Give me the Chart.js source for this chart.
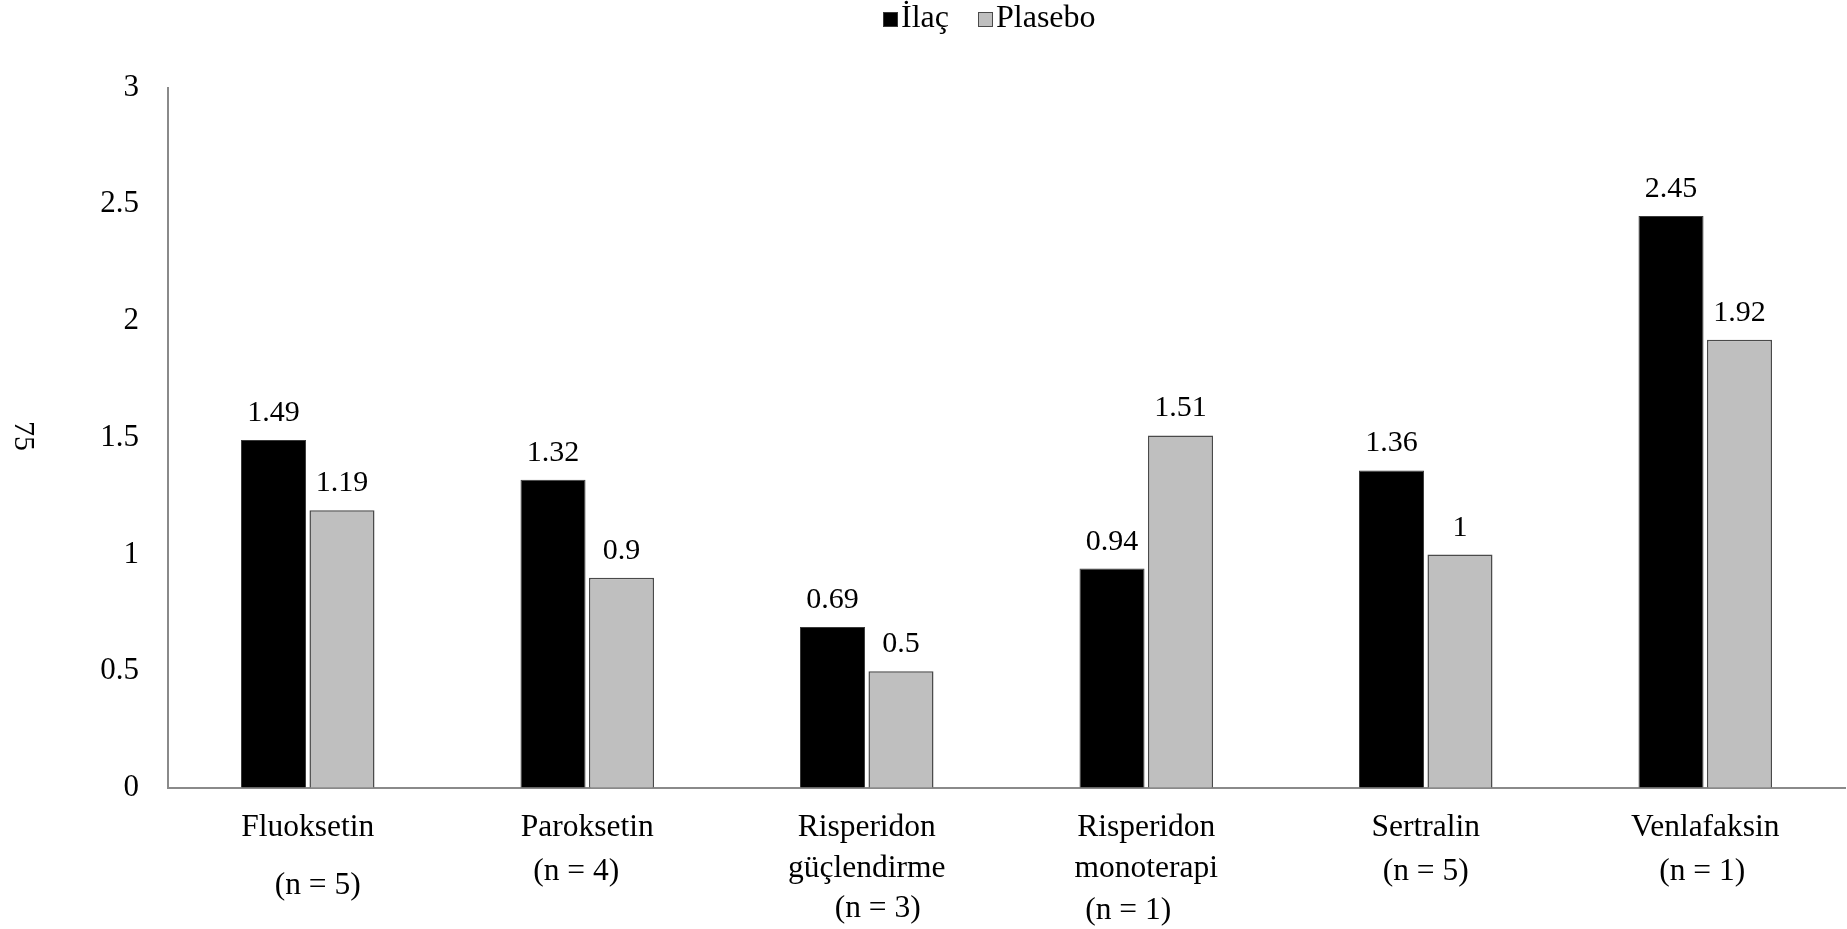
<!DOCTYPE html>
<html>
<head>
<meta charset="utf-8">
<script src="https://cdn.jsdelivr.net/npm/chart.js@4.4.1/dist/chart.umd.min.js"></script>
<style>
  html, body { margin: 0; padding: 0; background: #ffffff; }
  #wrap { width: 1847px; height: 929px; position: relative; }
</style>
</head>
<body>
<div id="wrap"><canvas id="chart" width="1847" height="929"></canvas></div>
<script>
// ---- data ----
const categories = ["Fluoksetin", "Paroksetin", "Risperidon güçlendirme", "Risperidon monoterapi", "Sertralin", "Venlafaksin"];
const categoryLines = [["Fluoksetin"], ["Paroksetin"], ["Risperidon", "güçlendirme"], ["Risperidon", "monoterapi"], ["Sertralin"], ["Venlafaksin"]];
const sampleSizes = ["(n = 5)", "(n = 4)", "(n = 3)", "(n = 1)", "(n = 5)", "(n = 1)"];
const seriesNames = ["İlaç", "Plasebo"];
const ilacValues = [1.49, 1.32, 0.69, 0.94, 1.36, 2.45];
const plaseboValues = [1.19, 0.9, 0.5, 1.51, 1, 1.92];
const yTicks = [0, 0.5, 1, 1.5, 2, 2.5, 3];
const pageNumber = "75";

// ---- styling ----
const SERIF = "'Liberation Serif', 'Times New Roman', Times, serif";
const AXIS_GREY = "#8a8a8a";
const BAR_COLORS = ["#000000", "#bfbfbf"];
const BAR_BORDERS = ["#3a3a3a", "#4a4a4a"];

// Per-category placement of the label lines below the axis:
// baseline of each category-name line and of the "(n = k)" line, plus a small horizontal nudge of that line.
const labelLayout = [
  { lines: [836], nY: 894, nDx: 10 },
  { lines: [836], nY: 880, nDx: -11 },
  { lines: [836, 877], nY: 917, nDx: 11 },
  { lines: [836, 877], nY: 919, nDx: -18 },
  { lines: [836], nY: 880, nDx: 0 },
  { lines: [836], nY: 880, nDx: -3 }
];

// left edge of each legend swatch
const legendX = [883, 978];

Chart.defaults.font.family = SERIF;
Chart.defaults.color = "#000000";

// value labels above each bar
const valueLabels = {
  id: "valueLabels",
  afterDatasetsDraw(chart) {
    const ctx = chart.ctx;
    ctx.save();
    ctx.font = "30px " + SERIF;
    ctx.fillStyle = "#000000";
    ctx.textAlign = "center";
    ctx.textBaseline = "alphabetic";
    chart.data.datasets.forEach((ds, di) => {
      const meta = chart.getDatasetMeta(di);
      meta.data.forEach((bar, i) => {
        ctx.fillText(String(ds.data[i]), bar.x, bar.y - 19);
      });
    });
    ctx.restore();
  }
};

// category names and sample sizes under the x axis
const categoryLabels = {
  id: "categoryLabels",
  afterDraw(chart) {
    const ctx = chart.ctx;
    const xScale = chart.scales.x;
    ctx.save();
    ctx.font = "31.5px " + SERIF;
    ctx.fillStyle = "#000000";
    ctx.textAlign = "center";
    ctx.textBaseline = "alphabetic";
    categoryLines.forEach((lines, i) => {
      const cx = xScale.getPixelForValue(i);
      const lay = labelLayout[i];
      lines.forEach((line, j) => ctx.fillText(line, cx, lay.lines[j]));
      ctx.fillText(sampleSizes[i], cx + lay.nDx, lay.nY);
    });
    ctx.restore();
  }
};

// legend row at the top
const topLegend = {
  id: "topLegend",
  afterDraw(chart) {
    const ctx = chart.ctx;
    ctx.save();
    ctx.font = "32px " + SERIF;
    ctx.textBaseline = "alphabetic";
    ctx.textAlign = "left";
    const boxY = 12, box = 15, baseline = 27;
    seriesNames.forEach((name, i) => {
      const x = legendX[i];
      ctx.fillStyle = BAR_COLORS[i];
      ctx.fillRect(x, boxY, box, box);
      ctx.lineWidth = 1;
      ctx.strokeStyle = BAR_BORDERS[i];
      ctx.strokeRect(x + 0.5, boxY + 0.5, box - 1, box - 1);
      ctx.fillStyle = "#000000";
      ctx.fillText(name, x + box + 3, baseline);
    });
    ctx.restore();
  }
};

// page number printed sideways at the left edge
const sidewaysPageNumber = {
  id: "sidewaysPageNumber",
  afterDraw(chart) {
    const ctx = chart.ctx;
    ctx.save();
    ctx.translate(23, 436);
    ctx.rotate(Math.PI / 2);
    ctx.font = "30px " + SERIF;
    ctx.fillStyle = "#000000";
    ctx.textAlign = "center";
    ctx.textBaseline = "middle";
    ctx.fillText(pageNumber, 0, 0);
    ctx.restore();
  }
};

new Chart(document.getElementById("chart"), {
  type: "bar",
  data: {
    labels: categories,
    datasets: [
      {
        label: seriesNames[0],
        data: ilacValues,
        backgroundColor: BAR_COLORS[0],
        borderColor: BAR_BORDERS[0],
        borderWidth: 1
      },
      {
        label: seriesNames[1],
        data: plaseboValues,
        backgroundColor: BAR_COLORS[1],
        borderColor: BAR_BORDERS[1],
        borderWidth: 1.5
      }
    ]
  },
  options: {
    responsive: false,
    animation: false,
    events: [],
    layout: { padding: { top: 87.5, right: 2, bottom: 0, left: 0 } },
    datasets: { bar: { categoryPercentage: 0.49, barPercentage: 0.95 } },
    plugins: {
      legend: { display: false },
      tooltip: { enabled: false },
      title: { display: false }
    },
    scales: {
      x: {
        ticks: { display: false },
        grid: { display: true, drawOnChartArea: false, drawTicks: false },
        border: { display: true, color: AXIS_GREY, width: 2 },
        afterFit(scale) { scale.height = 141; }
      },
      y: {
        min: 0,
        max: 3,
        afterBuildTicks(scale) { scale.ticks = yTicks.map(v => ({ value: v })); },
        ticks: {
          padding: 29,
          font: { size: 31, family: SERIF },
          color: "#000000",
          callback: v => String(v)
        },
        grid: { display: true, drawOnChartArea: false, drawTicks: false },
        border: { display: true, color: AXIS_GREY, width: 2 },
        afterFit(scale) { scale.width = 168; }
      }
    }
  },
  plugins: [valueLabels, categoryLabels, topLegend, sidewaysPageNumber]
});
</script>
</body>
</html>
